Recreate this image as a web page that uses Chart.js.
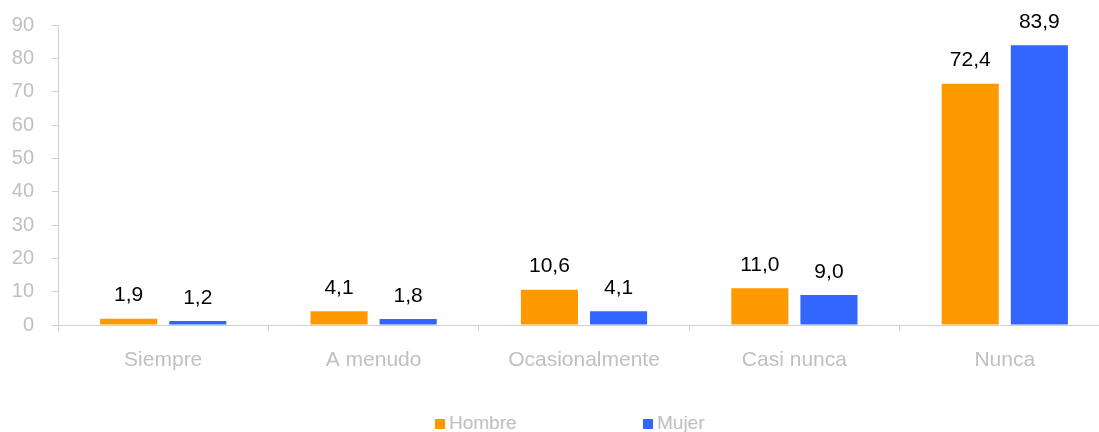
<!DOCTYPE html>
<html lang="es">
<head>
    <meta charset="UTF-8">
    <title>Frecuencia por sexo</title>
    <style>
        body { margin: 0; overflow: hidden; background: #fff; font-family: "Liberation Sans", Arial, sans-serif; }
        #wrap { position: relative; width: 1112px; height: 432px; }
        #chart-box { position: absolute; left: 0; top: -5px; width: 1112px; height: 400px; }
        .legend-item { position: absolute; top: 412px; font-size: 19px; color: #c0c0c0; line-height: 22px; white-space: nowrap; }
        .legend-item span { display: inline-block; width: 10px; height: 10px; margin-right: 4px; vertical-align: 0px; }
    </style>
</head>
<body>
    <div id="wrap">
        <div id="chart-box"><canvas id="barChart"></canvas></div>
        <div class="legend-item" style="left:435px"><span style="background:#ff9900"></span>Hombre</div>
        <div class="legend-item" style="left:643px"><span style="background:#3366ff"></span>Mujer</div>
    </div>

    <script src="https://cdn.jsdelivr.net/npm/chart.js"></script>
    <script>
        const categories = ['Siempre', 'A menudo', 'Ocasionalmente', 'Casi nunca', 'Nunca'];
        const hombre = [1.9, 4.1, 10.6, 11.0, 72.4];
        const mujer = [1.2, 1.8, 4.1, 9.0, 83.9];
        const yTicks = [0, 10, 20, 30, 40, 50, 60, 70, 80, 90];

        const grey = '#c0c0c0';
        const lineGrey = '#d0d0d0';
        const family = '"Liberation Sans", Arial, sans-serif';

        // value labels above each bar, comma decimal
        const valueLabels = {
            id: 'valueLabels',
            afterDatasetsDraw(chart) {
                const ctx = chart.ctx;
                ctx.save();
                ctx.fillStyle = '#000';
                ctx.font = '21px ' + family;
                ctx.textAlign = 'center';
                ctx.textBaseline = 'middle';
                chart.data.datasets.forEach((ds, i) => {
                    chart.getDatasetMeta(i).data.forEach((bar, j) => {
                        const txt = ds.data[j].toFixed(1).replace('.', ',');
                        ctx.fillText(txt, bar.x, bar.y - 23);
                    });
                });
                ctx.restore();
            }
        };

        new Chart(document.getElementById('barChart'), {
            type: 'bar',
            data: {
                labels: categories,
                datasets: [
                    { label: 'Hombre', data: hombre, backgroundColor: '#ff9900' },
                    { label: 'Mujer', data: mujer, backgroundColor: '#3366ff' }
                ]
            },
            options: {
                responsive: true,
                maintainAspectRatio: false,
                animation: false,
                layout: { padding: { top: 18, right: 2, left: 0, bottom: 0 } },
                datasets: { bar: { categoryPercentage: 0.657, barPercentage: 0.826 } },
                plugins: { legend: { display: false }, tooltip: { enabled: false } },
                scales: {
                    x: {
                        grid: { display: true, offset: true, drawOnChartArea: false, tickLength: 6, color: lineGrey },
                        border: { color: lineGrey },
                        ticks: { color: grey, font: { family: family, size: 21 }, padding: 17, maxRotation: 0 },
                        afterFit(scale) { scale.height = 70; }
                    },
                    y: {
                        min: 0,
                        max: 90,
                        afterBuildTicks(scale) { scale.ticks = yTicks.map(v => ({ value: v })); },
                        grid: { drawOnChartArea: false, tickLength: 6, color: lineGrey },
                        border: { color: lineGrey },
                        ticks: { color: grey, font: { family: family, size: 20 }, padding: 18 },
                        afterFit(scale) { scale.width = 58; }
                    }
                }
            },
            plugins: [valueLabels]
        });
    </script>
</body>
</html>
